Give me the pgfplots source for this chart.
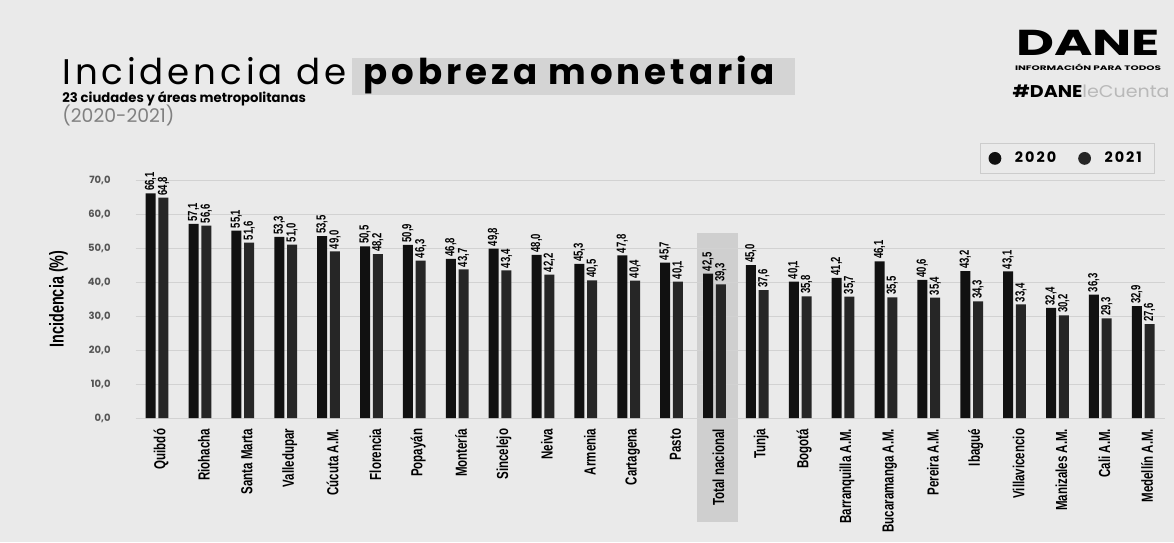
\documentclass[border=0pt]{standalone}
\usepackage{pgfplots}
\usepackage{pgfplotstable}
\pgfplotsset{compat=1.18}
\usepackage{fontspec}
\setmainfont{Liberation Sans}
\newfontfamily\pop{Poppins}
\newfontfamily\popwide[LetterSpace=11]{Poppins}
\newfontfamily\popls[LetterSpace=14]{Poppins}
\newfontfamily\narrow[FakeStretch=0.72]{Liberation Sans}
\definecolor{bg}{HTML}{EAEAEA}
\definecolor{hl}{HTML}{D4D4D4}
\definecolor{bar20}{HTML}{111111}
\definecolor{bar21}{HTML}{262626}
\definecolor{ticktxt}{HTML}{555555}

\pgfplotstableread{
i  y20  y21
0  66.1 64.8
1  57.1 56.6
2  55.1 51.6
3  53.3 51.0
4  53.5 49.0
5  50.5 48.2
6  50.9 46.3
7  46.8 43.7
8  49.8 43.4
9  48.0 42.2
10 45.3 40.5
11 47.8 40.4
12 45.7 40.1
13 42.5 39.3
14 45.0 37.6
15 40.1 35.8
16 41.2 35.7
17 46.1 35.5
18 40.6 35.4
19 43.2 34.3
20 43.1 33.4
21 32.4 30.2
22 36.3 29.3
23 32.9 27.6
}\data

\begin{document}
\begin{tikzpicture}
% background and fixed page size (1 px = 0.5 pt)
\fill[bg] (0,0) rectangle (587pt,271pt);
\useasboundingbox (0,0) rectangle (587pt,271pt);

% title block
\fill[hl] (176pt,223.5pt) rectangle (397.5pt,242pt);
\node[anchor=base west, inner sep=0pt] at (31pt,228.5pt)
  {\popwide\fontsize{17.8}{20}\selectfont Incidencia de \textbf{pobreza monetaria}};
\node[anchor=base west, inner sep=0pt] at (31pt,219.5pt)
  {\pop\bfseries\fontsize{6.6}{8}\selectfont 23 ciudades y áreas metropolitanas};
\node[anchor=base west, inner sep=0pt, text=gray] at (31pt,209.5pt)
  {\pop\fontsize{9.4}{11}\selectfont (2020-2021)};

% logo
\node[anchor=base, inner sep=0pt] at (544pt,243pt)
  {\scalebox{1.45}[1]{\pop\bfseries\fontsize{18}{20}\selectfont DANE}};
\node[anchor=base, inner sep=0pt] at (544pt,235.5pt)
  {\resizebox{73pt}{3.2pt}{\pop\bfseries INFORMACIÓN PARA TODOS}};
\node[anchor=base east, inner sep=0pt] at (585pt,222pt)
  {\scalebox{1.12}[1]{\pop\fontsize{8.5}{10}\selectfont\textbf{\#DANE}\textcolor{gray!55}{leCuenta}}};

% grey band behind "Total nacional"
\fill[gray!38] (348.5pt,10pt) rectangle (369pt,154.5pt);

\begin{axis}[
  at={(67.8pt,62pt)}, anchor=south west,
  scale only axis, width=514.5pt, height=119pt,
  ybar=1.4pt, bar width=5pt,
  xmin=-0.5, xmax=23.5, ymin=0, ymax=70,
  ytick={0,10,...,70},
  xtick=data,
  xticklabels={Quibdó, Riohacha, Santa Marta, Valledupar, Cúcuta A.M., Florencia, Popayán, Montería, Sincelejo, Neiva, Armenia, Cartagena, Pasto, Total nacional, Tunja, Bogotá, Barranquilla A.M., Bucaramanga A.M., Pereira A.M., Ibagué, Villavicencio, Manizales A.M., Cali A.M., Medellín A.M.},
  xticklabel style={rotate=90, anchor=east, font=\narrow\bfseries\fontsize{8}{9}\selectfont, inner sep=1pt, yshift=-2pt},
  yticklabel style={font=\pop\bfseries\fontsize{5}{6}\selectfont, text=ticktxt, xshift=-9pt},
  /pgf/number format/.cd, fixed, fixed zerofill, precision=1, use comma, assume math mode=true, /pgfplots/.cd,
  axis line style={draw=none}, major tick style={draw=none},
  ymajorgrids, grid style={gray!35, line width=0.4pt},
  ylabel={Incidencia (\%)},
  ylabel style={at={(axis description cs:-0.075,0.5)}, anchor=center, font=\narrow\bfseries\fontsize{10}{11}\selectfont},
  clip=false,
  nodes near coords,
  every node near coord/.append style={rotate=90, anchor=west, inner sep=1pt, font=\narrow\bfseries\fontsize{6.6}{7}\selectfont, text=black},
  legend style={at={(axis description cs:0.99,1.155)}, anchor=north east, draw=gray!40, fill=none, legend columns=2, font=\popls\bfseries\fontsize{7.2}{8}\selectfont, inner xsep=4pt, inner ysep=2pt, /tikz/every even column/.append style={column sep=9pt}},
  legend image code/.code={\fill (0pt,0pt) circle (3.2pt); \path (-3.2pt,0pt) (8pt,0pt);},
]
\addplot[fill=bar20, draw=none] table[x=i, y=y20] {\data};
\addplot[fill=bar21, draw=none] table[x=i, y=y21] {\data};
\legend{2020, 2021}
\end{axis}
\end{tikzpicture}
\end{document}
